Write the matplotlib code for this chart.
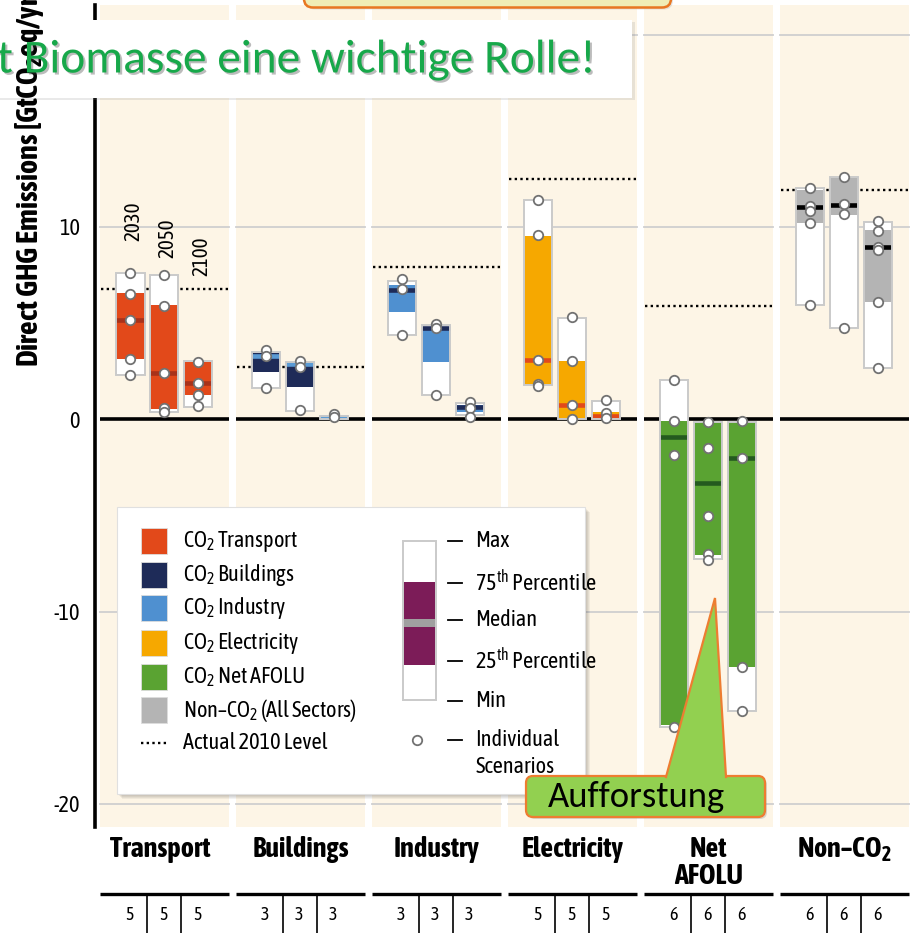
import numpy as np
import matplotlib
matplotlib.use('Agg')
import matplotlib.pyplot as plt
from matplotlib.patches import Rectangle, FancyBboxPatch, Polygon
from matplotlib import font_manager
import matplotlib.transforms as mtransforms
import matplotlib.patheffects as pe


def _w(v):
    return font_manager.weight_dict.get(v, 400) if isinstance(v, str) else int(v)


def _has_regular_and_bold(name):
    ws = [_w(f.weight) for f in font_manager.fontManager.ttflist if f.name == name and f.style == 'normal']
    return any(w <= 450 for w in ws) and any(w >= 650 for w in ws)


_cands = ['Asap Condensed', 'Fira Sans Condensed', 'Roboto Condensed', 'Barlow Semi Condensed',
          'Archivo Narrow', 'Cabin Condensed']
FONT = next((n for n in _cands if _has_regular_and_bold(n)), 'DejaVu Sans')
_names = set(f.name for f in font_manager.fontManager.ttflist)
CALLOUT_FONT = next((n for n in ['Carlito', 'Lato', 'Open Sans'] if n in _names), 'DejaVu Sans')

plt.rcParams['font.family'] = [FONT, 'DejaVu Sans']
plt.rcParams['mathtext.fontset'] = 'custom'
plt.rcParams['mathtext.rm'] = FONT
plt.rcParams['mathtext.bf'] = FONT + ':bold'
plt.rcParams['mathtext.it'] = FONT
plt.rcParams['axes.unicode_minus'] = False

# ---------------- data ----------------
sectors = ['Transport', 'Buildings', 'Industry', 'Electricity', 'Net\nAFOLU', 'Non\u2013CO$_\\mathbf{2}$']
years = ['2030', '2050', '2100']
scenario_counts = [[5, 5, 5], [3, 3, 3], [3, 3, 3], [5, 5, 5], [6, 6, 6], [6, 6, 6]]

stat_min = [[2.3, 0.35, 0.65], [1.6, 0.45, 0.02], [4.4, 1.25, 0.2],
            [1.8, 0.0, 0.0], [-16.0, -7.25, -15.15], [5.95, 4.75, 2.65]]
stat_q25 = [[3.15, 0.55, 1.25], [2.45, 1.65, 0.06], [5.55, 3.0, 0.38],
            [1.8, 0.02, 0.05], [-15.9, -7.05, -12.9], [10.2, 10.6, 6.1]]
stat_med = [[5.15, 2.4, 1.9], [3.3, 2.88, 0.1], [6.72, 4.72, 0.62],
            [3.1, 0.73, 0.17], [-0.95, -3.3, -2.0], [11.05, 11.15, 8.95]]
stat_q75 = [[6.55, 5.95, 2.95], [3.42, 2.95, 0.14], [7.0, 4.82, 0.72],
            [9.55, 3.05, 0.35], [-0.1, -0.15, -0.15], [11.9, 12.55, 9.85]]
stat_max = [[7.6, 7.5, 3.05], [3.5, 3.0, 0.18], [7.2, 4.88, 0.82],
            [11.4, 5.25, 0.95], [2.05, -0.15, -0.15], [12.0, 12.6, 10.25]]

scenarios = [
    [[7.6, 6.5, 5.15, 3.15, 2.3], [7.5, 5.9, 2.4, 0.6, 0.35], [3.0, 1.9, 1.28, 0.68]],
    [[3.6, 3.3, 1.6], [3.05, 2.72, 0.47], [0.28, 0.1]],
    [[7.3, 6.75, 4.4], [4.95, 4.75, 1.25], [0.88, 0.6, 0.13]],
    [[11.4, 9.6, 3.1, 1.85, 1.75], [5.3, 3.05, 0.73, 0.0], [1.0, 0.3, 0.05]],
    [[2.05, -0.1, -1.85, -16.0], [-0.15, -1.5, -5.05, -7.0, -7.3], [-0.1, -2.0, -12.9, -15.15]],
    [[12.0, 11.1, 10.85, 10.2, 5.95], [12.6, 11.2, 10.65, 4.75], [10.3, 9.8, 8.95, 8.8, 6.1, 2.65]],
]
level_2010 = [6.77, 2.72, 7.93, 12.5, 5.9, 11.93]

legend_labels = ['CO$_2$ Transport', 'CO$_2$ Buildings', 'CO$_2$ Industry',
                 'CO$_2$ Electricity', 'CO$_2$ Net AFOLU', 'Non\u2013CO$_2$ (All Sectors)']
schematic_labels = ['Max', '75$^{\\mathrm{th}}$ Percentile', 'Median',
                    '25$^{\\mathrm{th}}$ Percentile', 'Min']
y_ticks = [-20, -10, 0, 10, 20]
y_label = 'Direct GHG Emissions [GtCO$_\\mathbf{2}$eq/yr]'

# ---------------- style ----------------
fill_colors = ['#E2491A', '#1E2B58', '#4F90D0', '#F6A800', '#5AA332', '#B4B4B4']
median_colors = ['#A8321A', '#5B9BD5', '#1E2B58', '#E2491A', '#245A1F', '#000000']
cream = '#FDF5E6'
grid_c = '#CFCFCF'
outline_c = '#CACACA'

W, H = 910, 933
fig = plt.figure(figsize=(W / 100, H / 100), dpi=100)
r = fig.canvas.get_renderer()


def fit_size(text, target_px, weight='normal', family=None):
    kw = {'fontsize': 20, 'fontweight': weight}
    if family:
        kw['family'] = family
    t = fig.text(0, 0, text, **kw)
    w = t.get_window_extent(r).width
    t.remove()
    return 20 * target_px / w


fs_cat = fit_size('Transport', 100, 'bold')
fs_leg = fit_size('Actual 2010 Level', 144)
fs_tick = fit_size('10', 21)
fs_ylab = fit_size('Direct GHG Emissions [Gt', 268, 'bold')
fs_year = fit_size('2030', 39)
fs_cnt = 13

ax_top_px, ax_bot_px, ax_left_px = 5, 826.7, 95
ax = fig.add_axes([ax_left_px / W, 1 - ax_bot_px / H, (W - ax_left_px) / W, (ax_bot_px - ax_top_px) / H])
ax.set_xlim(-0.511, 5.482)
ax.set_ylim(-21.19, 21.54)

panel_half = 0.475
offsets = [-0.25, 0.0, 0.25]
bw = 0.206
xl = ax.get_xlim()[0]

for i, sec in enumerate(sectors):
    left = max(i - panel_half, xl)
    right = i + panel_half
    ax.axvspan(left, right, color=cream, zorder=0, lw=0)
    for g in [-20, -10, 10, 20]:
        ax.plot([left, right], [g, g], color=grid_c, lw=1.3, zorder=1)
    ax.plot([left, right], [0, 0], color='black', lw=2.6, zorder=2, solid_capstyle='butt')
    ax.plot([left + 0.01, right], [level_2010[i]] * 2, color='black', lw=1.7,
            linestyle=(0, (1, 1.4)), zorder=2)
    for j in range(3):
        x = i + offsets[j]
        lo, hi = stat_min[i][j], stat_max[i][j]
        ax.bar(x, hi - lo, bottom=lo, width=bw, color='white', lw=0, zorder=3)
        ax.bar(x, stat_q75[i][j] - stat_q25[i][j], bottom=stat_q25[i][j], width=bw,
               color=fill_colors[i], lw=0, zorder=4)
        ax.plot([x - bw / 2, x + bw / 2], [stat_med[i][j]] * 2, color=median_colors[i],
                lw=3.3, zorder=5, solid_capstyle='butt')
        ax.bar(x, hi - lo, bottom=lo, width=bw, fill=False, edgecolor=outline_c, lw=1.4, zorder=6)
        pts = scenarios[i][j]
        ax.plot([x] * len(pts), pts, 'o', ms=6.8, mfc='white', mec='#727272', mew=1.3,
                zorder=7, clip_on=False)

for s in ['top', 'right', 'bottom']:
    ax.spines[s].set_visible(False)
ax.spines['left'].set_linewidth(2.6)
ax.set_xticks([])
ax.set_yticks(y_ticks)
ax.set_yticklabels([str(t) for t in y_ticks])
ax.tick_params(axis='y', length=0, pad=11, labelsize=fs_tick)
ax.set_facecolor('white')

# year labels above transport bars
year_label_y = [9.25, 8.4, 7.45]
for j, yr in enumerate(years):
    ax.text(offsets[j] + 0.024, year_label_y[j], yr, rotation=90, ha='center', va='bottom',
            fontsize=fs_year, zorder=8)

# ---------------- overlay (pixel coordinates) ----------------
ov = fig.add_axes([0, 0, 1, 1], zorder=10)
ov.set_xlim(0, W)
ov.set_ylim(H, 0)
ov.axis('off')
ov.patch.set_alpha(0)
trans = mtransforms.blended_transform_factory(ax.transData, ov.transData)

# bottom: category names, lines, counts
for i, sec in enumerate(sectors):
    left = max(i - panel_half, xl)
    right = i + panel_half
    ov.text(i - 0.035 if i == 0 else i, 836, sec, transform=trans, ha='center', va='top',
            fontsize=fs_cat, fontweight='bold', linespacing=1.0)
    ov.plot([left, right], [894, 894], transform=trans, color='black', lw=2.4,
            solid_capstyle='butt', clip_on=False)
    for sx in [i - 0.125, i + 0.125]:
        ov.plot([sx, sx], [894, 935], transform=trans, color='black', lw=1.2, clip_on=False)
    for j in range(3):
        ov.text(i + offsets[j] - 0.01, 915, str(scenario_counts[i][j]), transform=trans,
                ha='center', va='center', fontsize=fs_cnt)

# y label
ov.text(30, 367, y_label, rotation=90, ha='center', va='bottom', fontsize=fs_ylab,
        fontweight='bold')

# legend box
for k in range(4):
    ov.add_patch(Rectangle((117 + 2 + k, 507 + 2 + k), 468, 287, fc='black', alpha=0.05, lw=0))
ov.add_patch(Rectangle((117, 507), 468, 287, fc='white', ec='#E0E0E0', lw=0.8))
leg_y = [541, 575, 608, 643, 677, 710]
for k, lab in enumerate(legend_labels):
    ov.add_patch(Rectangle((141, leg_y[k] - 13), 26, 26, fc=fill_colors[k], ec='#DDDDDD', lw=0.6))
    ov.text(183, leg_y[k], lab, ha='left', va='center', fontsize=fs_leg)
ov.plot([141, 167], [743, 743], color='black', lw=1.7, linestyle=(0, (1, 1.4)))
ov.text(183, 743, 'Actual 2010 Level', ha='left', va='center', fontsize=fs_leg)

# schematic
ov.add_patch(Rectangle((403, 541), 33, 159, fc='white', ec=outline_c, lw=1.4))
ov.add_patch(Rectangle((404, 582), 31, 83, fc='#7C1C58', lw=0))
ov.add_patch(Rectangle((404, 619), 31, 8, fc='#A0A0A0', lw=0))
sch_y = [541, 583, 620, 661, 701]
for k, lab in enumerate(schematic_labels):
    ov.plot([448, 462], [sch_y[k]] * 2, color='black', lw=1.3)
    ov.text(475, sch_y[k], lab, ha='left', va='center', fontsize=fs_leg)
ov.plot([417], [740], 'o', ms=6.8, mfc='white', mec='#727272', mew=1.3)
ov.plot([448, 462], [740, 740], color='black', lw=1.3)
ov.text(475, 740, 'Individual', ha='left', va='center', fontsize=fs_leg)
ov.text(475, 767, 'Scenarios', ha='left', va='center', fontsize=fs_leg)

# top callout box (cut off)
ov.add_patch(FancyBboxPatch((306, -40), 367, 49.5, boxstyle='round,pad=0,rounding_size=9',
                            fc='#9E9E9E', ec='none', alpha=0.25))
ov.add_patch(FancyBboxPatch((304, -40), 367, 47.5, boxstyle='round,pad=0,rounding_size=9',
                            fc='#F0EDB6', ec='#E87722', lw=1.8))

# banner
ov.add_patch(Rectangle((0, 22), 635, 78, fc='#888888', alpha=0.18, lw=0))
ov.add_patch(Rectangle((0, 20), 632, 78, fc='white', lw=0))
fs_ban = fit_size('t Biomasse eine wichtige Rolle!', 598, family=[CALLOUT_FONT, 'DejaVu Sans'])
ov.text(-3, 60, 't Biomasse eine wichtige Rolle!', color='#17A84A', fontsize=fs_ban,
        family=[CALLOUT_FONT, 'DejaVu Sans'], ha='left', va='center',
        path_effects=[pe.withSimplePatchShadow(offset=(1.5, -1.5), shadow_rgbFace='#404040', alpha=0.35)])

# Aufforstung callout
ov.add_patch(FancyBboxPatch((528, 778), 239, 41, boxstyle='round,pad=0,rounding_size=7',
                            fc='#888888', ec='none', alpha=0.3))
ov.add_patch(FancyBboxPatch((526, 776), 239, 41, boxstyle='round,pad=0,rounding_size=7',
                            fc='#92D050', ec='#ED7D31', lw=1.6))
ov.add_patch(Polygon([(666, 778.5), (715, 598), (726, 778.5)], closed=True, fc='#92D050', lw=0))
ov.plot([666, 715, 726], [777, 598, 777], color='#ED7D31', lw=1.6, solid_joinstyle='miter')
fs_auf = fit_size('Aufforstung', 177, family=[CALLOUT_FONT, 'DejaVu Sans'])
ov.text(636.5, 797, 'Aufforstung', color='black', fontsize=fs_auf,
        family=[CALLOUT_FONT, 'DejaVu Sans'], ha='center', va='center')

fig.savefig('out.png', dpi=100)
